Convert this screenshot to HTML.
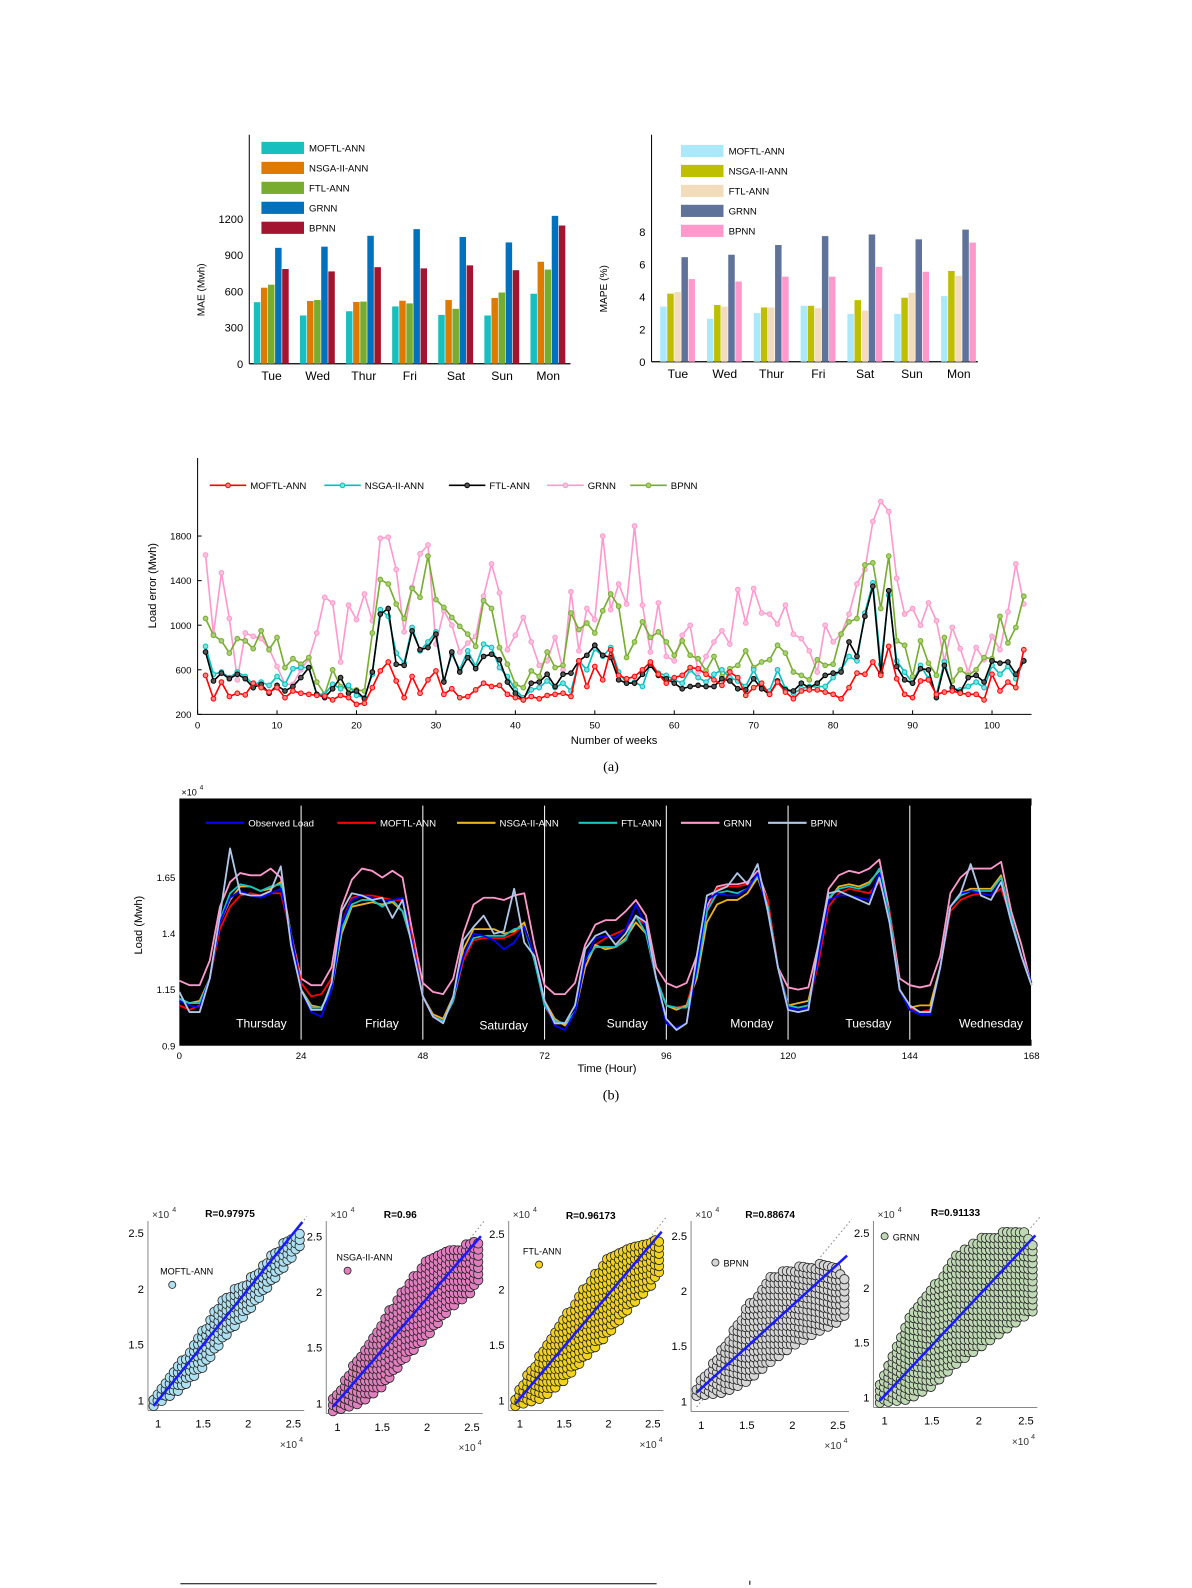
<!DOCTYPE html>
<html><head><meta charset="utf-8"><style>
body{margin:0;background:#fff;}
svg{display:block;font-family:"Liberation Sans",sans-serif;}
</style></head><body>
<svg id="fig" width="1192" height="1588" viewBox="0 0 1192 1588" xmlns="http://www.w3.org/2000/svg">
<g transform="scale(1.0133)">
<g id="mae"></g>
<g id="mape"></g>
<g id="err"></g>
<text x="603" y="761" font-family="Liberation Serif" font-size="14" text-anchor="middle">(a)</text>
<g id="load"></g>
<text x="603" y="1085" font-family="Liberation Serif" font-size="14" text-anchor="middle">(b)</text>
<g id="scat"></g>
<line x1="178" y1="1563" x2="648" y2="1563" stroke="#000" stroke-width="1"/>
<line x1="740" y1="1560" x2="740" y2="1564" stroke="#000" stroke-width="1"/>
</g>
</svg>
<script>
// ---------- DATA ----------
const days = ["Tue","Wed","Thur","Fri","Sat","Sun","Mon"];
const models = ["MOFTL-ANN","NSGA-II-ANN","FTL-ANN","GRNN","BPNN"];
const maeMOFTL = [510,400,435,475,405,400,580];
const maeNSGA  = [630,520,512,522,528,545,845];
const maeFTL   = [655,528,515,500,455,590,780];
const maeGRNN  = [960,970,1060,1115,1050,1005,1225];
const maeBPNN  = [785,765,800,790,815,775,1145];
const maeTicks = [0,300,600,900,1200];
const mapeMOFTL = [3.4,2.65,3.0,3.45,2.95,2.95,4.05];
const mapeNSGA  = [4.2,3.5,3.35,3.45,3.8,3.95,5.6];
const mapeFTL   = [4.3,3.4,3.35,3.3,3.15,4.25,5.3];
const mapeGRNN  = [6.45,6.6,7.2,7.75,7.85,7.55,8.15];
const mapeBPNN  = [5.1,4.95,5.25,5.25,5.85,5.55,7.35];
const mapeTicks = [0,2,4,6,8];

const errMOFTL=[550,340,490,360,390,375,480,440,400,440,350,410,390,380,370,365,330,370,350,290,300,440,590,670,500,350,540,390,510,590,380,430,350,360,420,480,450,460,380,350,330,360,340,370,380,390,360,680,450,630,510,780,550,520,540,600,670,560,480,530,550,620,610,560,510,460,580,530,370,440,480,380,490,400,340,410,420,420,400,380,340,440,570,560,670,550,810,520,380,350,500,510,380,400,410,390,380,380,330,560,410,490,440,780];
const errNSGA=[810,560,580,530,580,540,470,490,460,540,470,610,620,620,380,380,470,430,460,370,350,560,1140,1080,750,660,980,770,850,940,500,740,600,770,630,830,800,620,540,420,350,420,440,500,440,480,410,680,600,790,720,800,580,480,490,450,660,570,550,510,480,600,530,490,560,600,530,500,450,600,440,410,600,430,390,430,450,450,450,530,600,720,680,1110,1380,650,1270,680,580,480,640,520,380,670,430,420,450,490,440,640,560,630,520,680];
const errFTL=[760,500,570,520,560,520,440,470,390,460,410,450,530,620,380,350,430,530,390,410,340,580,1100,1150,650,640,950,780,800,920,490,760,580,710,610,720,740,690,490,390,330,480,490,560,450,560,570,680,730,820,730,710,510,480,480,560,640,550,520,480,430,450,460,450,450,520,500,430,420,520,430,380,500,420,410,480,440,480,550,570,580,850,720,1080,1350,570,1310,630,510,480,610,600,350,640,440,400,530,550,490,680,660,670,560,680];
const errGRNN=[1630,920,1470,1060,510,930,900,880,790,630,470,470,600,700,930,1250,1200,670,1180,1050,1280,1040,1780,1790,1500,940,1340,1640,1720,830,1130,1000,760,840,900,1260,1550,1290,780,910,1070,850,640,680,890,600,1300,770,1150,1050,1800,1140,1370,1190,1890,1180,760,1200,720,680,910,1000,580,720,850,950,830,1320,1020,1330,1110,1100,1010,1180,920,880,770,580,1000,850,920,1100,1370,1500,1930,2110,2020,1420,1100,1150,1000,1200,1040,680,980,790,580,800,690,900,780,1120,1550,1190];
const errBPNN=[1060,910,860,750,880,860,790,950,780,890,620,700,650,710,490,380,600,450,430,420,410,930,1410,1370,1190,1060,1330,1250,1620,1230,1160,1070,990,920,810,1220,1150,800,650,470,440,590,540,760,620,640,1110,960,1020,930,1130,1280,1170,710,850,1030,890,940,850,730,860,730,700,590,720,540,610,640,770,620,670,690,820,750,580,550,510,690,640,650,920,1030,1060,1540,1560,1150,1620,860,820,540,860,660,550,890,500,600,550,600,710,700,1080,840,980,1260];
const errYTicks=[200,600,1000,1400,1800];
const errXTicks=[0,10,20,30,40,50,60,70,80,90,100];

// hourly load (x10^4), sampled every 2 hours from 0 to 168
const loadObserved=[1.10,1.08,1.07,1.20,1.45,1.56,1.59,1.57,1.56,1.58,1.60,1.40, 1.15,1.05,1.03,1.15,1.45,1.55,1.57,1.56,1.55,1.55,1.56,1.35, 1.12,1.03,1.00,1.12,1.30,1.40,1.39,1.37,1.33,1.36,1.43,1.30, 1.10,0.99,0.97,1.05,1.28,1.38,1.39,1.38,1.42,1.53,1.43,1.20, 1.00,0.98,1.00,1.25,1.55,1.58,1.57,1.57,1.60,1.67,1.50,1.25, 1.07,1.06,1.07,1.30,1.55,1.57,1.57,1.56,1.55,1.67,1.45,1.15, 1.06,1.04,1.04,1.25,1.52,1.58,1.59,1.58,1.57,1.63,1.45,1.30,1.18];
const loadMOFTL=[1.08,1.06,1.08,1.20,1.42,1.52,1.57,1.58,1.57,1.58,1.58,1.40, 1.18,1.12,1.13,1.20,1.45,1.56,1.57,1.57,1.56,1.55,1.55,1.38, 1.12,1.04,1.02,1.10,1.28,1.37,1.38,1.38,1.38,1.40,1.44,1.30, 1.08,1.00,1.00,1.05,1.25,1.35,1.38,1.40,1.42,1.47,1.44,1.20, 1.08,1.07,1.08,1.25,1.50,1.60,1.61,1.61,1.62,1.65,1.55,1.25, 1.08,1.07,1.08,1.27,1.52,1.58,1.60,1.59,1.58,1.63,1.50,1.15, 1.07,1.05,1.06,1.25,1.50,1.55,1.57,1.58,1.57,1.60,1.47,1.30,1.17];
const loadNSGA=[1.10,1.09,1.10,1.20,1.45,1.55,1.61,1.61,1.59,1.60,1.63,1.40, 1.15,1.08,1.07,1.15,1.40,1.52,1.53,1.54,1.53,1.54,1.50,1.35, 1.12,1.04,1.02,1.12,1.33,1.42,1.42,1.42,1.40,1.41,1.45,1.28, 1.10,1.02,0.99,1.05,1.25,1.35,1.33,1.34,1.38,1.45,1.40,1.20, 1.08,1.06,1.08,1.20,1.45,1.53,1.55,1.55,1.58,1.65,1.52,1.25, 1.08,1.09,1.10,1.30,1.55,1.61,1.62,1.61,1.63,1.68,1.48,1.15, 1.07,1.08,1.08,1.25,1.52,1.58,1.60,1.60,1.60,1.66,1.47,1.30,1.17];
const loadFTL=[1.11,1.09,1.09,1.20,1.46,1.58,1.62,1.61,1.59,1.61,1.62,1.40, 1.15,1.07,1.07,1.15,1.42,1.53,1.55,1.55,1.52,1.55,1.50,1.35, 1.12,1.03,1.01,1.10,1.30,1.38,1.39,1.39,1.39,1.42,1.43,1.28, 1.08,1.01,1.00,1.05,1.28,1.34,1.34,1.34,1.37,1.48,1.40,1.20, 1.08,1.07,1.07,1.22,1.50,1.58,1.59,1.58,1.60,1.66,1.52,1.25, 1.08,1.07,1.08,1.30,1.56,1.60,1.61,1.60,1.62,1.69,1.48,1.15, 1.06,1.04,1.04,1.25,1.52,1.57,1.59,1.59,1.59,1.65,1.47,1.30,1.17];
const loadGRNN=[1.19,1.17,1.17,1.28,1.52,1.63,1.67,1.66,1.66,1.69,1.65,1.40, 1.20,1.17,1.17,1.25,1.52,1.64,1.69,1.68,1.65,1.68,1.65,1.40, 1.18,1.14,1.13,1.20,1.40,1.53,1.56,1.56,1.55,1.57,1.58,1.35, 1.17,1.13,1.13,1.18,1.35,1.44,1.46,1.46,1.50,1.55,1.48,1.25, 1.18,1.16,1.18,1.30,1.52,1.61,1.62,1.62,1.63,1.68,1.55,1.25, 1.16,1.15,1.16,1.35,1.60,1.66,1.68,1.67,1.69,1.73,1.50,1.20, 1.17,1.16,1.17,1.30,1.58,1.65,1.69,1.69,1.69,1.72,1.50,1.35,1.17];
const loadBPNN=[1.14,1.05,1.05,1.20,1.48,1.78,1.58,1.57,1.57,1.59,1.70,1.35, 1.15,1.06,1.06,1.18,1.50,1.58,1.57,1.55,1.56,1.47,1.55,1.33, 1.12,1.03,1.00,1.12,1.37,1.43,1.48,1.40,1.41,1.60,1.36,1.30, 1.10,1.00,1.00,1.08,1.33,1.39,1.41,1.35,1.40,1.48,1.45,1.20, 1.02,0.97,1.00,1.30,1.57,1.59,1.61,1.67,1.62,1.71,1.50,1.25, 1.06,1.05,1.06,1.35,1.58,1.59,1.57,1.55,1.53,1.65,1.45,1.15, 1.08,1.05,1.05,1.25,1.52,1.58,1.71,1.57,1.55,1.63,1.45,1.30,1.17];
const loadYTicks=[0.9,1.15,1.4,1.65];
const loadXTicks=[0,24,48,72,96,120,144,168];
const dayNames=["Thursday","Friday","Saturday","Sunday","Monday","Tuesday","Wednesday"];

// scatter panels: envelope of predicted values vs observed (x10^4)
const scatTitles=["R=0.97975","R=0.96","R=0.96173","R=0.88674","R=0.91133"];
const scatNames=["MOFTL-ANN","NSGA-II-ANN","FTL-ANN","BPNN","GRNN"];
const envX=[0.95,1.25,1.5,1.75,2.0,2.25,2.5,2.6];
const envLo=[[0.95,1.1,1.3,1.58,1.8,2.05,2.3,2.42],[0.93,1.0,1.15,1.4,1.6,1.85,2.0,2.15],[0.95,1.02,1.18,1.4,1.6,1.85,2.05,2.2],[1.05,1.08,1.18,1.35,1.5,1.62,1.72,1.8],[0.95,0.98,1.1,1.3,1.45,1.6,1.75,1.8]];
const envHi=[[1.05,1.35,1.65,1.95,2.08,2.3,2.5,2.52],[1.05,1.45,1.75,2.05,2.3,2.4,2.45,2.45],[1.05,1.45,1.75,2.05,2.3,2.4,2.45,2.45],[1.15,1.5,1.85,2.15,2.22,2.25,2.25,2.05],[1.15,1.75,2.0,2.3,2.45,2.52,2.52,2.4]];
const fitStart=[0.95,0.97,0.97,1.08,0.97];
const fitEnd=[2.6,2.5,2.52,2.32,2.48];
</script>
<script>
const NS="http://www.w3.org/2000/svg";
function mk(parent,tag,attrs,txt){const e=document.createElementNS(NS,tag);for(const k in attrs)e.setAttribute(k,attrs[k]);if(txt!==undefined)e.textContent=txt;parent.appendChild(e);return e;}

// ---------- bar charts ----------
function barChart(gid,cfg){
  const g=document.getElementById(gid);
  const y=v=>cfg.y0-(v-cfg.vmin)*cfg.ppu;
  const cx=i=>cfg.cx0+i*cfg.step;
  let ax=mk(g,'line',{x1:cfg.ax,y1:cfg.top,x2:cfg.ax,y2:cfg.y0,stroke:'#000','stroke-width':1});
  
  let bx=mk(g,'line',{x1:cfg.ax,y1:cfg.y0,x2:cfg.right,y2:cfg.y0,stroke:'#000','stroke-width':1.3});
  
  cfg.ticks.forEach(t=>{
    const tl=mk(g,'text',{x:cfg.ax-6,y:y(t)+4,'font-size':11,'text-anchor':'end'},String(t));
    
  });
  const tt=mk(g,'text',{x:0,y:0,'font-size':10,'text-anchor':'middle',transform:`translate(${cfg.ax-44},${(cfg.y0+cfg.top+80)/2}) rotate(-90)`},cfg.ylabel);
  
  const bw=7;
  days.forEach((d,i)=>{
    cfg.series.forEach((s,k)=>{
      const v=s[i];const x=cx(i)+(k-2)*bw-bw/2;
      const r=mk(g,'rect',{x:x,y:y(v),width:bw-0.6,height:y(cfg.vmin)-y(v),fill:cfg.colors[k]});
      
      
    });
    const l=mk(g,'text',{x:cx(i),y:cfg.y0+16,'font-size':12,'text-anchor':'middle'},d);
    
  });
  models.forEach((m,k)=>{
    const r=mk(g,'rect',{x:cfg.lx,y:cfg.ly+k*19.7,width:42,height:12,fill:cfg.colors[k]});
    
    const t=mk(g,'text',{x:cfg.lx+47,y:cfg.ly+k*19.7+9.5,'font-size':9.5},m);
    
  });
}
barChart('mae',{ax:246,top:133,y0:359,right:563,vmin:0,ppu:143/1200,cx0:268,step:45.5,ticks:maeTicks,ylabel:'MAE (Mwh)',
  series:[maeMOFTL,maeNSGA,maeFTL,maeGRNN,maeBPNN],colors:['#17BFBF','#DF7A00','#77AC30','#0072BD','#A2142F'],lx:258,ly:140});
barChart('mape',{ax:643,top:133,y0:357,right:965,vmin:0,ppu:16,cx0:669,step:46.2,ticks:mapeTicks,ylabel:'MAPE (%)',
  series:[mapeMOFTL,mapeNSGA,mapeFTL,mapeGRNN,mapeBPNN],colors:['#ABE9FA','#BDBF00','#F2DCBB','#5F7299','#FF99CC'],lx:672,ly:143});

// ---------- load error chart ----------
(function(){
  const g=document.getElementById('err');
  const X=w=>195+w*7.84, Y=v=>705-(v-200)*0.11;
  let a=mk(g,'line',{x1:195,y1:452,x2:195,y2:705,stroke:'#000'});
  
  a=mk(g,'line',{x1:195,y1:705,x2:1018,y2:705,stroke:'#000'});
  
  errYTicks.forEach(t=>{const e=mk(g,'text',{x:189,y:Y(t)+3.5,'font-size':9.5,'text-anchor':'end'},String(t));
    
    const tk=mk(g,'line',{x1:195,y1:Y(t),x2:199,y2:Y(t),stroke:'#000'});});
  errXTicks.forEach(t=>{const e=mk(g,'text',{x:X(t),y:719,'font-size':9.5,'text-anchor':'middle'},String(t));
    
    const tk=mk(g,'line',{x1:X(t),y1:705,x2:X(t),y2:701,stroke:'#000'});});
  let t=mk(g,'text',{x:606,y:734,'font-size':11,'text-anchor':'middle'},'Number of weeks');
  
  t=mk(g,'text',{x:0,y:0,'font-size':11,'text-anchor':'middle',transform:'translate(154,578) rotate(-90)'},'Load error (Mwh)');
  
  const ser=[errGRNN,errBPNN,errNSGA,errFTL,errMOFTL];
  const cols=['#FF99CC','#77AC30','#00BFBF','#000000','#FF0000'];
  const fills=['#FFC0DD','#A8D070','#80E0E0','#555','#FF8080'];
  const nm=['grnn','bpnn','nsga-ii-ann','ftl-ann','moftl-ann'];
  ser.forEach((s,k)=>{
    const pts=s.map((v,i)=>X(i+1)+','+Y(v)).join(' ');
    const pl=mk(g,'polyline',{points:pts,fill:'none',stroke:cols[k],'stroke-width':1.6});
    
    s.forEach((v,i)=>{const c=mk(g,'circle',{cx:X(i+1),cy:Y(v),r:2.3,fill:fills[k],stroke:cols[k],'stroke-width':1});
      });
  });
  const lg=[['MOFTL-ANN','#FF0000','#FF8080',207],['NSGA-II-ANN','#00BFBF','#80E0E0',320],['FTL-ANN','#000','#555',443],['GRNN','#FF99CC','#FFC0DD',540],['BPNN','#77AC30','#A8D070',622]];
  lg.forEach(l=>{
    const ln=mk(g,'line',{x1:l[3],y1:479,x2:l[3]+36,y2:479,stroke:l[1],'stroke-width':1.6});
    
    const c=mk(g,'circle',{cx:l[3]+18,cy:479,r:2.3,fill:l[2],stroke:l[1]});
    const tx=mk(g,'text',{x:l[3]+40,y:482.5,'font-size':9.5},l[0]);
    
  });
})();

// ---------- hourly load chart ----------
(function(){
  const g=document.getElementById('load');
  const X=h=>177+h*5.006, Y=v=>1032-(v-0.9)*221.3;
  const bg=mk(g,'rect',{x:177,y:788,width:841,height:244,fill:'#000'});
  
  for(let i=1;i<=7;i++){const l=mk(g,'line',{x1:X(i*24),y1:795,x2:X(i*24),y2:1026,stroke:'#fff','stroke-width':1});
    }
  loadYTicks.forEach(t=>{const e=mk(g,'text',{x:173,y:Y(t)+3.5,'font-size':9.5,'text-anchor':'end'},String(t));
    });
  loadXTicks.forEach(t=>{const e=mk(g,'text',{x:X(t),y:1045,'font-size':9.5,'text-anchor':'middle'},String(t));
    });
  let t=mk(g,'text',{x:179,y:785,'font-size':9},'×10');
  t=mk(g,'text',{x:197,y:779,'font-size':6.5},'4');
  t=mk(g,'text',{x:599,y:1058,'font-size':11,'text-anchor':'middle'},'Time (Hour)');
  t=mk(g,'text',{x:0,y:0,'font-size':11,'text-anchor':'middle',transform:'translate(140,913) rotate(-90)'},'Load (Mwh)');
  const ser=[loadGRNN,loadMOFTL,loadNSGA,loadFTL,loadObserved,loadBPNN];
  const cols=['#FF99CC','#FF0000','#EDB120','#17C3C3','#0000FF','#B0C8E8'];
  const nm=['grnn','moftl-ann','nsga-ii-ann','ftl-ann','observed-load','bpnn'];
  ser.forEach((s,k)=>{
    const pts=s.map((v,i)=>X(i*2)+','+Y(v)).join(' ');
    const pl=mk(g,'polyline',{points:pts,fill:'none',stroke:cols[k],'stroke-width':1.8,'stroke-linejoin':'round'});
    
  });
  const dx=[258,377,497,619,742,857,978];
  dayNames.forEach((d,i)=>{const e=mk(g,'text',{x:dx[i],y:i==2?1016:1014,'font-size':12,fill:'#fff','text-anchor':'middle'},d);
    });
  const lg=[['Observed Load','#0000FF',203],['MOFTL-ANN','#FF0000',333],['NSGA-II-ANN','#EDB120',451],['FTL-ANN','#17C3C3',571],['GRNN','#FF99CC',672],['BPNN','#B0C8E8',758]];
  lg.forEach(l=>{const ln=mk(g,'line',{x1:l[2],y1:812,x2:l[2]+38,y2:812,stroke:l[1],'stroke-width':2});
    
    const tx=mk(g,'text',{x:l[2]+42,y:815.5,'font-size':9.5,fill:'#fff'},l[0]);
    });
})();

// ---------- scatter panels ----------
(function(){
  const g=document.getElementById('scat');
  const P=[{ax:146,x1:156,sx:89,y1:1382,sy:110,tx:227,ty:1201},{ax:322,x1:333,sx:88.5,y1:1385,sy:110,tx:395,ty:1202},{ax:502,x1:513,sx:87.5,y1:1382,sy:109.5,tx:583,ty:1203},{ax:682,x1:692,sx:90,y1:1383,sy:109,tx:760,ty:1202},{ax:862,x1:873,sx:93,y1:1379,sy:108,tx:943,ty:1200}];
  const cols=['#AEE0F0','#E07FBE','#F2D21C','#D6D6D6','#BFD9B4'];
  const lgPos=[[170,1268,158,1258],[343,1254,332,1244],[532,1248,516,1238],[706,1246,714,1250],[873,1220,881,1224]];
  P.forEach((p,k)=>{
    const X=v=>p.x1+(v-1)*p.sx, Y=v=>p.y1-(v-1)*p.sy;
    const pg=mk(g,'g',{});
    let a=mk(pg,'line',{x1:p.ax,y1:1205,x2:p.ax,y2:p.y1+10,stroke:'#888','stroke-width':1});
    
    a=mk(pg,'line',{x1:p.ax,y1:p.y1+10,x2:X(2.62),y2:p.y1+10,stroke:'#888','stroke-width':1});
    
    [1,1.5,2,2.5].forEach(t=>{
      let e=mk(pg,'text',{x:p.ax-4,y:Y(t)+4,'font-size':11,'text-anchor':'end'},String(t));
      e=mk(pg,'text',{x:X(t),y:p.y1+27,'font-size':11,'text-anchor':'middle'},String(t));
    });
    let e=mk(pg,'text',{x:p.ax+4,y:1202,'font-size':10,fill:'#333'},'×10');
    e=mk(pg,'text',{x:p.ax+24,y:1196,'font-size':7,fill:'#333'},'4');
    e=mk(pg,'text',{x:X(2.35),y:p.y1+47,'font-size':10,fill:'#333'},'×10');
    e=mk(pg,'text',{x:X(2.35)+19,y:p.y1+41,'font-size':7,fill:'#333'},'4');
    e=mk(pg,'text',{x:p.tx,y:p.ty,'font-size':10,'font-weight':'bold','text-anchor':'middle'},scatTitles[k]);
    let d=mk(pg,'line',{x1:X(0.95),y1:Y(0.95),x2:X(2.65),y2:Y(2.65),stroke:'#888','stroke-dasharray':'1.5,2.5','stroke-width':1});
    
    const lo=envLo[k],hi=envHi[k];
    const interp=(arr,x)=>{for(let i=0;i<envX.length-1;i++){if(x<=envX[i+1]){const f=(x-envX[i])/(envX[i+1]-envX[i]);return arr[i]+f*(arr[i+1]-arr[i]);}}return arr[arr.length-1];};
    let row=0;
    for(let xv=envX[0];xv<=envX[envX.length-1]+1e-6;xv+=0.045){
      const l=interp(lo,xv),h=interp(hi,xv);
      const off=(row%2)*0.025;row++;
      for(let yv=l+off;yv<=h;yv+=0.055){
        const c=mk(pg,'circle',{cx:X(xv),cy:Y(yv),r:4.6,fill:cols[k],stroke:'#222','stroke-width':0.8});
        
      }
    }
    const f=mk(pg,'line',{x1:X(0.95),y1:Y(fitStart[k]),x2:X(2.6),y2:Y(fitEnd[k]),stroke:'#1a1aff','stroke-width':2.5});
    
    const lp=lgPos[k];
    const m=mk(pg,'circle',{cx:lp[0],cy:lp[1],r:3.5,fill:cols[k],stroke:'#222','stroke-width':0.8});
    const lt=mk(pg,'text',{x:lp[2],y:lp[3],'font-size':9},scatNames[k]);
  });
})();
</script>
</body></html>
